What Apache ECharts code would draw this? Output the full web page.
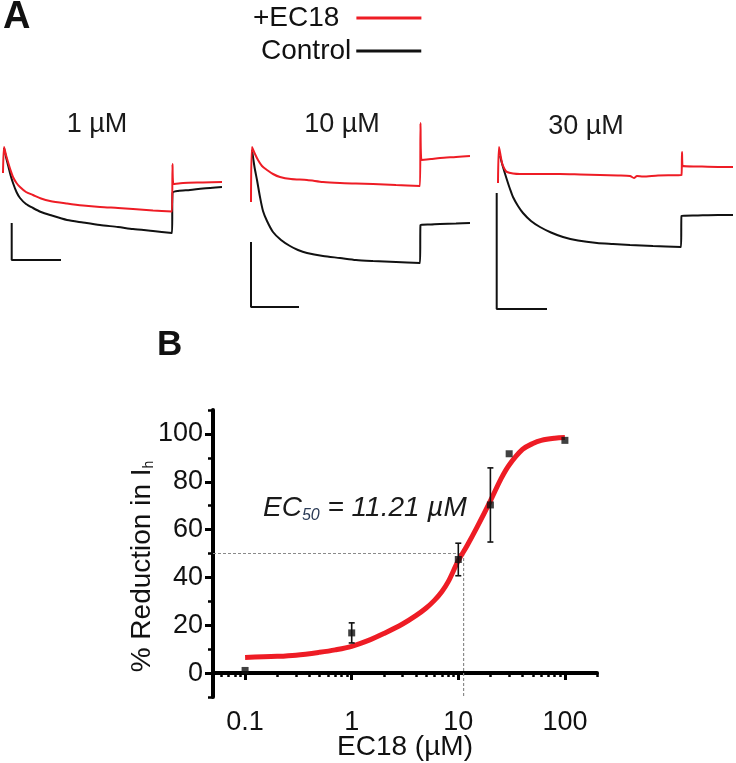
<!DOCTYPE html>
<html><head><meta charset="utf-8">
<script src="https://cdn.jsdelivr.net/npm/echarts@6/dist/echarts.min.js"></script>
<style>html,body{margin:0;padding:0;background:#fff}#c{width:736px;height:763px}</style>
</head><body><div id="c"></div>
<script>
const FONT = "'Liberation Sans', Arial, Helvetica, sans-serif";
const RED = '#ee1c25';
const BLK = '#111111';

// ---------- Panel A: current traces (time in s, current in arbitrary nA units) ----------
const panelTitles = ['1 µM', '10 µM', '30 µM'];
const ec18Trace1 = [[0,-0.33],[0.01,-0.07],[0.03,-0.15],[0.05,-0.22],[0.075,-0.30],[0.10,-0.37],[0.135,-0.43],[0.17,-0.47],[0.23,-0.52],[0.30,-0.55],[0.38,-0.585],[0.47,-0.61],[0.64,-0.635],[0.80,-0.655],[0.97,-0.67],[1.15,-0.68],[1.30,-0.69],[1.50,-0.705],[1.69,-0.715],[1.695,-0.24],[1.705,-0.44],[1.80,-0.43],[2.0,-0.425],[2.19,-0.42]];
const controlTrace1 = [[0.01,-0.08],[0.03,-0.17],[0.05,-0.25],[0.075,-0.35],[0.10,-0.43],[0.135,-0.52],[0.17,-0.58],[0.23,-0.64],[0.30,-0.68],[0.38,-0.72],[0.47,-0.75],[0.64,-0.80],[0.80,-0.825],[0.97,-0.85],[1.15,-0.87],[1.30,-0.89],[1.50,-0.91],[1.69,-0.93],[1.695,-0.53],[1.75,-0.51],[1.87,-0.50],[2.0,-0.485],[2.19,-0.47]];
const ec18Trace2 = [[0,-0.62],[0.01,-0.07],[0.04,-0.14],[0.07,-0.20],[0.11,-0.26],[0.16,-0.30],[0.22,-0.34],[0.29,-0.37],[0.40,-0.39],[0.56,-0.40],[0.72,-0.42],[0.89,-0.43],[1.05,-0.435],[1.22,-0.44],[1.45,-0.45],[1.69,-0.46],[1.695,0.17],[1.705,-0.20],[1.80,-0.19],[1.89,-0.18],[2.05,-0.17],[2.19,-0.16]];
const controlTrace2 = [[0.01,-0.10],[0.035,-0.27],[0.06,-0.40],[0.09,-0.57],[0.12,-0.71],[0.16,-0.81],[0.22,-0.92],[0.30,-1.00],[0.39,-1.06],[0.47,-1.10],[0.56,-1.13],[0.72,-1.16],[0.89,-1.18],[1.05,-1.20],[1.22,-1.21],[1.45,-1.22],[1.69,-1.23],[1.695,-0.85],[1.80,-0.845],[1.89,-0.84],[2.05,-0.835],[2.19,-0.83]];
const ec18Trace3 = [[0,-0.43],[0.01,-0.07],[0.04,-0.23],[0.065,-0.29],[0.09,-0.32],[0.15,-0.335],[0.22,-0.34],[0.40,-0.34],[0.62,-0.34],[0.82,-0.345],[1.02,-0.35],[1.20,-0.355],[1.32,-0.36],[1.36,-0.38],[1.39,-0.36],[1.45,-0.365],[1.60,-0.355],[1.835,-0.35],[1.84,-0.12],[1.85,-0.26],[2.0,-0.265],[2.2,-0.27],[2.35,-0.27]];
const controlTrace3 = [[0.02,-0.16],[0.05,-0.27],[0.09,-0.40],[0.12,-0.49],[0.15,-0.57],[0.20,-0.66],[0.25,-0.73],[0.33,-0.81],[0.42,-0.87],[0.53,-0.925],[0.65,-0.97],[0.80,-1.005],[0.99,-1.03],[1.15,-1.04],[1.32,-1.05],[1.55,-1.06],[1.83,-1.07],[1.835,-0.76],[2.0,-0.755],[2.2,-0.75],[2.35,-0.75]];
const scaleBar1 = [[0.087,-0.83],[0.087,-1.20],[0.58,-1.20]];
const scaleBar2 = [[0,-1.02],[0,-1.67],[0.48,-1.67]];
const scaleBar3 = [[-0.013,-0.53],[-0.013,-1.69],[0.49,-1.69]];

// ---------- Panel B: concentration-response ----------
const concentrations = [0.1, 1, 10, 20, 30, 100];          // µM
const meanReduction  = [1.1, 16.8, 47.5, 70.3, 91.7, 97.3]; // %
const semReduction   = [0, 4.2, 6.8, 15.5, 0, 0];
const fitConc      = [0.1,0.2,0.3,0.5,0.7,1,1.5,2,3,4,5,6,7,8,10,12,15,20,25,30,40,50,60,80,100];
const fitReduction = [6.5,7.0,7.5,8.7,9.7,11.2,14.0,16.5,20.5,24,27.2,30.5,34,38,47,53,61,72,81,87,93.5,96,97.3,98.2,98.5];
const EC50 = 11.21;
const xMajorTicks = [0.1, 1, 10, 100];
const xMinorTicks = [0.06,0.07,0.08,0.09,0.2,0.3,0.4,0.5,0.6,0.7,0.8,0.9,2,3,4,5,6,7,8,9,20,30,40,50,60,70,80,90,200];
const yMajorTicks = [0, 20, 40, 60, 80, 100];
const yMinorTicks = [-10, 10, 30, 50, 70, 90, 110];

const traces = [[ec18Trace1, controlTrace1, scaleBar1],[ec18Trace2, controlTrace2, scaleBar2],[ec18Trace3, controlTrace3, scaleBar3]];
const panelX0 = [3, 251, 498];
const titleCenters = [[97, 125], [342, 125], [586, 127]];

const grids = [], xAxes = [], yAxes = [], series = [];
traces.forEach((tr, i) => {
  grids.push({left: panelX0[i] - 3, top: 110, width: 243, height: 210, outerBoundsMode: 'none', containLabel: false});
  xAxes.push({type: 'value', gridIndex: i, min: -0.03, max: 2.4, show: false});
  yAxes.push({type: 'value', gridIndex: i, min: -1.8, max: 0.3, show: false});
  series.push({name: 'Control', type: 'line', xAxisIndex: i, yAxisIndex: i, data: tr[1], showSymbol: false, symbol: 'none',
    color: BLK, itemStyle: {color: BLK}, lineStyle: {color: BLK, width: 2}, smooth: 0.25, z: 2, silent: true});
  series.push({name: '+EC18', type: 'line', xAxisIndex: i, yAxisIndex: i, data: tr[0], showSymbol: false, symbol: 'none',
    color: RED, itemStyle: {color: RED}, lineStyle: {color: RED, width: 2}, smooth: 0.25, z: 3, silent: true});
  series.push({type: 'line', xAxisIndex: i, yAxisIndex: i, data: tr[2], showSymbol: false, symbol: 'none',
    lineStyle: {color: BLK, width: 2}, z: 2, silent: true});
});

// Panel B grid
grids.push({left: 213, top: 410, width: 384, height: 287, outerBoundsMode: 'none', containLabel: false});
const fmt = v => String(+(+v).toPrecision(3));
xAxes.push({type: 'log', logBase: 10, gridIndex: 3, min: 0.05, max: 200, position: 'bottom',
  name: 'EC18 (µM)', nameLocation: 'middle', nameGap: 36, nameMoveOverlap: false,
  nameTextStyle: {fontFamily: FONT, fontSize: 28, color: BLK},
  axisLine: {show: true, lineStyle: {color: '#000', width: 4}},
  axisTick: {show: true, customValues: xMajorTicks, length: 7, lineStyle: {color: '#000', width: 3}},
  axisLabel: {show: true, customValues: xMajorTicks, formatter: fmt, margin: 12, fontFamily: FONT, fontSize: 27, color: BLK},
  splitLine: {show: false}, minorTick: {show: false}});
xAxes.push({type: 'log', logBase: 10, gridIndex: 3, min: 0.05, max: 200, position: 'bottom', offset: 0,
  axisLine: {show: false}, axisLabel: {show: false}, splitLine: {show: false},
  axisTick: {show: true, customValues: xMinorTicks, length: 4, lineStyle: {color: '#000', width: 2.5}}});
yAxes.push({type: 'value', gridIndex: 3, min: -10, max: 110, position: 'left',
  name: '{a|% Reduction in I}{h|h}{sp| }', nameLocation: 'middle', nameGap: 54, nameRotate: 90, nameMoveOverlap: false,
  nameTextStyle: {fontFamily: FONT, fontSize: 28, color: BLK,
    rich: {a: {fontFamily: FONT, fontSize: 28, color: BLK, lineHeight: 34},
           h: {fontFamily: FONT, fontSize: 14, color: BLK, lineHeight: 34, padding: [14, 0, 0, 0]},
           sp: {fontFamily: FONT, fontSize: 14, lineHeight: 34, width: 26}}},
  axisLine: {show: true, lineStyle: {color: '#000', width: 4}},
  axisTick: {show: true, customValues: yMajorTicks, length: 8, lineStyle: {color: '#000', width: 3}},
  axisLabel: {show: true, customValues: yMajorTicks, margin: 10, fontFamily: FONT, fontSize: 27, color: BLK},
  splitLine: {show: false}});
yAxes.push({type: 'value', gridIndex: 3, min: -10, max: 110, position: 'left', offset: 0,
  axisLine: {show: false}, axisLabel: {show: false}, splitLine: {show: false},
  axisTick: {show: true, customValues: yMinorTicks, length: 5, lineStyle: {color: '#000', width: 2.5}}});

series.push({type: 'line', xAxisIndex: 3, yAxisIndex: 3, data: [[0.05, 50], [EC50, 50], [EC50, -10]],
  symbol: 'none', lineStyle: {color: '#8a8a8a', width: 1.2, type: [3, 2]}, z: 1, silent: true});
series.push({type: 'line', xAxisIndex: 3, yAxisIndex: 3, data: fitConc.map((c, i) => [c, fitReduction[i]]),
  symbol: 'none', smooth: 0.35, lineStyle: {color: RED, width: 5}, z: 2, silent: true});
series.push({type: 'custom', xAxisIndex: 3, yAxisIndex: 3, z: 3, silent: true,
  data: concentrations.map((c, i) => [c, meanReduction[i], meanReduction[i] - semReduction[i], meanReduction[i] + semReduction[i]]).filter((d, i) => semReduction[i] > 0),
  encode: {x: 0, y: 1},
  renderItem: (params, api) => {
    const x = api.value(0);
    const a = api.coord([x, api.value(2)]), b = api.coord([x, api.value(3)]);
    const w = 3, st = {stroke: BLK, lineWidth: 1.6};
    return {type: 'group', children: [
      {type: 'line', shape: {x1: a[0], y1: a[1], x2: b[0], y2: b[1]}, style: st},
      {type: 'line', shape: {x1: a[0] - w, y1: a[1], x2: a[0] + w, y2: a[1]}, style: st},
      {type: 'line', shape: {x1: b[0] - w, y1: b[1], x2: b[0] + w, y2: b[1]}, style: st}]};
  }});
series.push({type: 'scatter', xAxisIndex: 3, yAxisIndex: 3, data: concentrations.map((c, i) => [c, meanReduction[i]]),
  symbol: 'rect', symbolSize: 7, itemStyle: {color: BLK}, z: 4, silent: true});

const graphics = [
  {type: 'text', x: 3, y: 18, style: {text: 'A', fontFamily: FONT, fontSize: 38, fontWeight: 'bold', fill: BLK, align: 'left', verticalAlign: 'middle'}},
  {type: 'text', x: 157, y: 345, style: {text: 'B', fontFamily: FONT, fontSize: 35, fontWeight: 'bold', fill: BLK, align: 'left', verticalAlign: 'middle'}},
  {type: 'text', x: 263, y: 492, style: {text: '{a|EC}{s|50}{a| = ' + EC50 + ' µM}', align: 'left', verticalAlign: 'top',
    rich: {a: {fontFamily: FONT, fontSize: 28, fontStyle: 'italic', fill: '#1a1a1a', lineHeight: 32},
           s: {fontFamily: FONT, fontSize: 16, fontStyle: 'italic', fill: '#2a3a55', lineHeight: 32, padding: [16, 0, 0, 0]}}}}
];
panelTitles.forEach((t, i) => {
  graphics.push({type: 'text', x: titleCenters[i][0], y: titleCenters[i][1],
    style: {text: t, fontFamily: FONT, fontSize: 27, fill: '#1a1a1a', align: 'center', verticalAlign: 'middle'}});
});

const chart = echarts.init(document.getElementById('c'), null, {renderer: 'canvas'});
chart.setOption({
  animation: false,
  backgroundColor: '#fff',
  textStyle: {fontFamily: FONT},
  legend: [
    {data: [{name: '+EC18', itemStyle: {color: RED}}], left: 253, top: 4, padding: 0, orient: 'horizontal', align: 'right',
     icon: 'rect', itemWidth: 65, itemHeight: 3, selectedMode: false,
     textStyle: {fontFamily: FONT, fontSize: 28, color: BLK, padding: [0, 12, 0, 0]}},
    {data: [{name: 'Control', itemStyle: {color: BLK}}], left: 261, top: 37, padding: 0, orient: 'horizontal', align: 'right',
     icon: 'rect', itemWidth: 65, itemHeight: 3, selectedMode: false,
     textStyle: {fontFamily: FONT, fontSize: 28, color: BLK}}
  ],
  grid: grids, xAxis: xAxes, yAxis: yAxes, series: series, graphic: graphics
});
</script></body></html>
